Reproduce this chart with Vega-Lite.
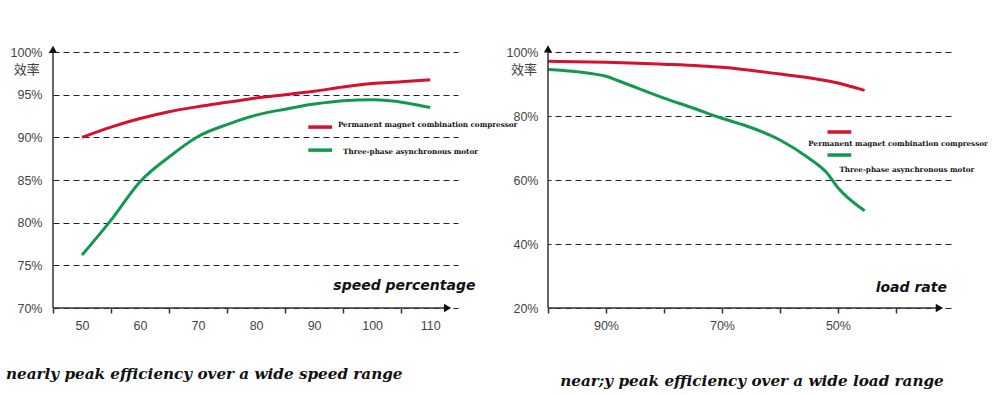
{
  "$schema": "https://vega.github.io/schema/vega-lite/v6.json",
  "background": "white",
  "padding": {"left": 6, "top": 45, "right": 0, "bottom": 0},
  "autosize": {"type": "pad"},
  "bounds": "flush",
  "spacing": 90,
  "config": {
    "view": {"stroke": null},
    "axis": {"labelFont": "Liberation Sans", "labelFontSize": 12.5, "labelColor": "#444"}
  },
  "datasets": {
    "speed": [
      {"speed": 50, "series": "Permanent magnet combination compressor", "eff": 90.0},
      {"speed": 55, "series": "Permanent magnet combination compressor", "eff": 91.2},
      {"speed": 60, "series": "Permanent magnet combination compressor", "eff": 92.2},
      {"speed": 65, "series": "Permanent magnet combination compressor", "eff": 93.0},
      {"speed": 70, "series": "Permanent magnet combination compressor", "eff": 93.6},
      {"speed": 75, "series": "Permanent magnet combination compressor", "eff": 94.1},
      {"speed": 80, "series": "Permanent magnet combination compressor", "eff": 94.6},
      {"speed": 85, "series": "Permanent magnet combination compressor", "eff": 95.0},
      {"speed": 90, "series": "Permanent magnet combination compressor", "eff": 95.4},
      {"speed": 95, "series": "Permanent magnet combination compressor", "eff": 95.9},
      {"speed": 100, "series": "Permanent magnet combination compressor", "eff": 96.3},
      {"speed": 105, "series": "Permanent magnet combination compressor", "eff": 96.5},
      {"speed": 110, "series": "Permanent magnet combination compressor", "eff": 96.75},
      {"speed": 50, "series": "Three-phase asynchronous motor", "eff": 76.2},
      {"speed": 55, "series": "Three-phase asynchronous motor", "eff": 80.3},
      {"speed": 60, "series": "Three-phase asynchronous motor", "eff": 84.8},
      {"speed": 65, "series": "Three-phase asynchronous motor", "eff": 87.7},
      {"speed": 70, "series": "Three-phase asynchronous motor", "eff": 90.1},
      {"speed": 75, "series": "Three-phase asynchronous motor", "eff": 91.5},
      {"speed": 80, "series": "Three-phase asynchronous motor", "eff": 92.6},
      {"speed": 85, "series": "Three-phase asynchronous motor", "eff": 93.3},
      {"speed": 90, "series": "Three-phase asynchronous motor", "eff": 93.9},
      {"speed": 95, "series": "Three-phase asynchronous motor", "eff": 94.3},
      {"speed": 100, "series": "Three-phase asynchronous motor", "eff": 94.4},
      {"speed": 103, "series": "Three-phase asynchronous motor", "eff": 94.3},
      {"speed": 110, "series": "Three-phase asynchronous motor", "eff": 93.5}
    ],
    "load": [
      {"load": 100, "series": "Permanent magnet combination compressor", "eff": 97.1},
      {"load": 90, "series": "Permanent magnet combination compressor", "eff": 96.8},
      {"load": 80, "series": "Permanent magnet combination compressor", "eff": 96.2},
      {"load": 70, "series": "Permanent magnet combination compressor", "eff": 95.2},
      {"load": 60, "series": "Permanent magnet combination compressor", "eff": 93.1},
      {"load": 50, "series": "Permanent magnet combination compressor", "eff": 90.3},
      {"load": 45.4, "series": "Permanent magnet combination compressor", "eff": 88.0},
      {"load": 100, "series": "Three-phase asynchronous motor", "eff": 94.5},
      {"load": 90, "series": "Three-phase asynchronous motor", "eff": 92.4},
      {"load": 88, "series": "Three-phase asynchronous motor", "eff": 91.1},
      {"load": 80, "series": "Three-phase asynchronous motor", "eff": 85.6},
      {"load": 75, "series": "Three-phase asynchronous motor", "eff": 82.5},
      {"load": 70, "series": "Three-phase asynchronous motor", "eff": 79.3},
      {"load": 65, "series": "Three-phase asynchronous motor", "eff": 76.4},
      {"load": 60, "series": "Three-phase asynchronous motor", "eff": 72.5},
      {"load": 55, "series": "Three-phase asynchronous motor", "eff": 66.8},
      {"load": 52, "series": "Three-phase asynchronous motor", "eff": 62.4},
      {"load": 50, "series": "Three-phase asynchronous motor", "eff": 57.6},
      {"load": 45.4, "series": "Three-phase asynchronous motor", "eff": 50.4}
    ]
  },
  "hconcat": [
    {
      "width": 405,
      "height": 256,
      "data": {"values": [{}]},
      "layer": [
        {
          "data": {"name": "speed"},
          "mark": {"type": "line", "interpolate": "monotone", "strokeWidth": 3},
          "encoding": {
            "x": {"field": "speed", "type": "quantitative",
              "scale": {"domain": [45, 114.8], "nice": false, "zero": false},
              "axis": {"values": [50, 60, 70, 80, 90, 100, 110], "tickOffset": -29, "labelOffset": 29, "tickSize": 5, "tickWidth": 1.5, "tickColor": "#333", "domain": false, "grid": false, "labelPadding": 6, "title": null}},
            "y": {"field": "eff", "type": "quantitative",
              "scale": {"domain": [70, 100], "nice": false, "zero": false},
              "axis": {"values": [70, 75, 80, 85, 90, 95, 100], "labelExpr": "datum.value + '%'", "grid": true, "gridDash": [6, 4], "gridColor": "#222", "gridWidth": 1, "ticks": false, "domain": false, "labelPadding": 11, "title": null}},
            "color": {"field": "series", "type": "nominal",
              "scale": {"domain": ["Permanent magnet combination compressor", "Three-phase asynchronous motor"], "range": ["#d7102b", "#12994f"]},
              "legend": null}
          }
        },
        {
          "mark": {"type": "rule", "color": "#333", "strokeWidth": 1.5},
          "encoding": {
            "x": {"datum": 45, "scale": {"domain": [45, 114.8], "nice": false, "zero": false}},
            "y": {"datum": 70, "scale": {"domain": [70, 100], "nice": false, "zero": false}},
            "y2": {"datum": 100.3}
          }
        },
        {
          "mark": {"type": "rule", "color": "#333", "strokeWidth": 1.5},
          "encoding": {
            "x": {"datum": 45, "scale": {"domain": [45, 114.8], "nice": false, "zero": false}},
            "x2": {"datum": 113},
            "y": {"datum": 70, "scale": {"domain": [70, 100], "nice": false, "zero": false}}
          }
        },
        {
          "mark": {"type": "point", "shape": "triangle-up", "filled": true, "color": "#111", "opacity": 1, "size": 70},
          "encoding": {
            "x": {"datum": 45, "scale": {"domain": [45, 114.8], "nice": false, "zero": false}},
            "y": {"datum": 100.3, "scale": {"domain": [70, 100], "nice": false, "zero": false}}
          }
        },
        {
          "mark": {"type": "point", "shape": "triangle-right", "filled": true, "color": "#111", "opacity": 1, "size": 70},
          "encoding": {
            "x": {"datum": 113, "scale": {"domain": [45, 114.8], "nice": false, "zero": false}},
            "y": {"datum": 70, "scale": {"domain": [70, 100], "nice": false, "zero": false}}
          }
        },
        {
          "mark": {"type": "text", "text": "效率", "align": "right", "baseline": "middle", "font": "Noto Sans CJK SC", "fontSize": 13, "color": "#444"},
          "encoding": {
            "x": {"datum": 42.7, "scale": {"domain": [45, 114.8], "nice": false, "zero": false}},
            "y": {"datum": 97.9, "scale": {"domain": [70, 100], "nice": false, "zero": false}}
          }
        },
        {
          "mark": {"type": "rule", "color": "#d7102b", "strokeWidth": 3.5},
          "encoding": {
            "x": {"datum": 89.0, "scale": {"domain": [45, 114.8], "nice": false, "zero": false}},
            "x2": {"datum": 93.1},
            "y": {"datum": 91.2, "scale": {"domain": [70, 100], "nice": false, "zero": false}}
          }
        },
        {
          "mark": {"type": "rule", "color": "#12994f", "strokeWidth": 3.5},
          "encoding": {
            "x": {"datum": 89.0, "scale": {"domain": [45, 114.8], "nice": false, "zero": false}},
            "x2": {"datum": 93.1},
            "y": {"datum": 88.5, "scale": {"domain": [70, 100], "nice": false, "zero": false}}
          }
        },
        {
          "mark": {"type": "text", "text": "Permanent magnet combination compressor", "align": "left", "baseline": "middle", "font": "DejaVu Serif", "fontWeight": "bold", "fontSize": 7.2, "color": "#111"},
          "encoding": {
            "x": {"datum": 94.1, "scale": {"domain": [45, 114.8], "nice": false, "zero": false}},
            "y": {"datum": 91.45, "scale": {"domain": [70, 100], "nice": false, "zero": false}}
          }
        },
        {
          "mark": {"type": "text", "text": "Three-phase asynchronous motor", "align": "left", "baseline": "middle", "font": "DejaVu Serif", "fontWeight": "bold", "fontSize": 7.2, "color": "#111"},
          "encoding": {
            "x": {"datum": 95.0, "scale": {"domain": [45, 114.8], "nice": false, "zero": false}},
            "y": {"datum": 88.25, "scale": {"domain": [70, 100], "nice": false, "zero": false}}
          }
        },
        {
          "mark": {"type": "text", "text": "speed percentage", "align": "right", "baseline": "middle", "font": "DejaVu Sans", "fontWeight": "bold", "fontStyle": "italic", "fontSize": 14, "color": "#111"},
          "encoding": {
            "x": {"datum": 117.8, "scale": {"domain": [45, 114.8], "nice": false, "zero": false}},
            "y": {"datum": 72.6, "scale": {"domain": [70, 100], "nice": false, "zero": false}}
          }
        },
        {
          "mark": {"type": "text", "text": "nearly peak efficiency over a wide speed range", "align": "left", "baseline": "middle", "font": "DejaVu Serif", "fontWeight": "bold", "fontStyle": "italic", "fontSize": 15.2, "color": "#111"},
          "encoding": {
            "x": {"datum": 36.9, "scale": {"domain": [45, 114.8], "nice": false, "zero": false}},
            "y": {"datum": 62.3, "scale": {"domain": [70, 100], "nice": false, "zero": false}}
          }
        }
      ]
    },
    {
      "width": 403,
      "height": 256,
      "data": {"values": [{}]},
      "layer": [
        {
          "data": {"name": "load"},
          "mark": {"type": "line", "interpolate": "monotone", "strokeWidth": 3},
          "encoding": {
            "x": {"field": "load", "type": "quantitative",
              "scale": {"domain": [30.5, 100], "reverse": true, "nice": false, "zero": false},
              "axis": {"values": [100, 90, 80, 70, 60, 50, 40], "labelExpr": "datum.value % 20 == 10 ? datum.value + '%' : ''", "tickSize": 5, "tickWidth": 1.5, "tickColor": "#333", "domain": false, "grid": false, "labelPadding": 6, "title": null}},
            "y": {"field": "eff", "type": "quantitative",
              "scale": {"domain": [20, 100], "nice": false, "zero": false},
              "axis": {"values": [20, 40, 60, 80, 100], "labelExpr": "datum.value + '%'", "grid": true, "gridDash": [6, 4], "gridColor": "#222", "gridWidth": 1, "ticks": false, "domain": false, "labelPadding": 10, "title": null}},
            "color": {"field": "series", "type": "nominal",
              "scale": {"domain": ["Permanent magnet combination compressor", "Three-phase asynchronous motor"], "range": ["#d7102b", "#12994f"]},
              "legend": null}
          }
        },
        {
          "mark": {"type": "rule", "color": "#333", "strokeWidth": 1.5},
          "encoding": {
            "x": {"datum": 100, "scale": {"domain": [30.5, 100], "reverse": true, "nice": false, "zero": false}},
            "y": {"datum": 20, "scale": {"domain": [20, 100], "nice": false, "zero": false}},
            "y2": {"datum": 101}
          }
        },
        {
          "mark": {"type": "rule", "color": "#333", "strokeWidth": 1.5},
          "encoding": {
            "x": {"datum": 100, "scale": {"domain": [30.5, 100], "reverse": true, "nice": false, "zero": false}},
            "x2": {"datum": 32.5},
            "y": {"datum": 20, "scale": {"domain": [20, 100], "nice": false, "zero": false}}
          }
        },
        {
          "mark": {"type": "point", "shape": "triangle-up", "filled": true, "color": "#111", "opacity": 1, "size": 70},
          "encoding": {
            "x": {"datum": 100, "scale": {"domain": [30.5, 100], "reverse": true, "nice": false, "zero": false}},
            "y": {"datum": 101, "scale": {"domain": [20, 100], "nice": false, "zero": false}}
          }
        },
        {
          "mark": {"type": "point", "shape": "triangle-right", "filled": true, "color": "#111", "opacity": 1, "size": 70},
          "encoding": {
            "x": {"datum": 32.5, "scale": {"domain": [30.5, 100], "reverse": true, "nice": false, "zero": false}},
            "y": {"datum": 20, "scale": {"domain": [20, 100], "nice": false, "zero": false}}
          }
        },
        {
          "mark": {"type": "text", "text": "效率", "align": "right", "baseline": "middle", "font": "Noto Sans CJK SC", "fontSize": 13, "color": "#444"},
          "encoding": {
            "x": {"datum": 101.9, "scale": {"domain": [30.5, 100], "reverse": true, "nice": false, "zero": false}},
            "y": {"datum": 94.5, "scale": {"domain": [20, 100], "nice": false, "zero": false}}
          }
        },
        {
          "mark": {"type": "rule", "color": "#d7102b", "strokeWidth": 3.5},
          "encoding": {
            "x": {"datum": 51.8, "scale": {"domain": [30.5, 100], "reverse": true, "nice": false, "zero": false}},
            "x2": {"datum": 47.7},
            "y": {"datum": 75.0, "scale": {"domain": [20, 100], "nice": false, "zero": false}}
          }
        },
        {
          "mark": {"type": "rule", "color": "#12994f", "strokeWidth": 3.5},
          "encoding": {
            "x": {"datum": 51.8, "scale": {"domain": [30.5, 100], "reverse": true, "nice": false, "zero": false}},
            "x2": {"datum": 47.7},
            "y": {"datum": 67.8, "scale": {"domain": [20, 100], "nice": false, "zero": false}}
          }
        },
        {
          "mark": {"type": "text", "text": "Permanent magnet combination compressor", "align": "left", "baseline": "middle", "font": "DejaVu Serif", "fontWeight": "bold", "fontSize": 7.2, "color": "#111"},
          "encoding": {
            "x": {"datum": 55.1, "scale": {"domain": [30.5, 100], "reverse": true, "nice": false, "zero": false}},
            "y": {"datum": 71.2, "scale": {"domain": [20, 100], "nice": false, "zero": false}}
          }
        },
        {
          "mark": {"type": "text", "text": "Three-phase asynchronous motor", "align": "left", "baseline": "middle", "font": "DejaVu Serif", "fontWeight": "bold", "fontSize": 7.2, "color": "#111"},
          "encoding": {
            "x": {"datum": 49.75, "scale": {"domain": [30.5, 100], "reverse": true, "nice": false, "zero": false}},
            "y": {"datum": 63.1, "scale": {"domain": [20, 100], "nice": false, "zero": false}}
          }
        },
        {
          "mark": {"type": "text", "text": "load rate", "align": "right", "baseline": "middle", "font": "DejaVu Sans", "fontWeight": "bold", "fontStyle": "italic", "fontSize": 14, "color": "#111"},
          "encoding": {
            "x": {"datum": 31.2, "scale": {"domain": [30.5, 100], "reverse": true, "nice": false, "zero": false}},
            "y": {"datum": 26.1, "scale": {"domain": [20, 100], "nice": false, "zero": false}}
          }
        },
        {
          "mark": {"type": "text", "text": "near;y peak efficiency over a wide load range", "align": "left", "baseline": "middle", "font": "DejaVu Serif", "fontWeight": "bold", "fontStyle": "italic", "fontSize": 15.2, "color": "#111"},
          "encoding": {
            "x": {"datum": 97.9, "scale": {"domain": [30.5, 100], "reverse": true, "nice": false, "zero": false}},
            "y": {"datum": -2.96, "scale": {"domain": [20, 100], "nice": false, "zero": false}}
          }
        }
      ]
    }
  ]
}
